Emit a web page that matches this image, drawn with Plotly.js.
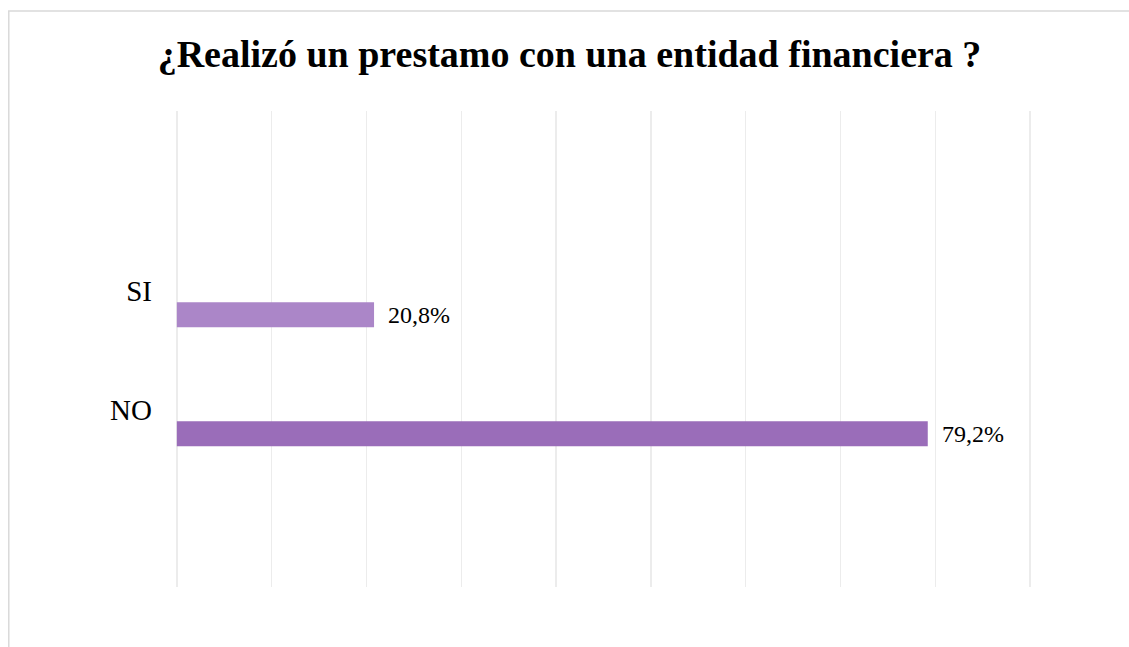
<!DOCTYPE html>
<html>
<head>
<meta charset="utf-8">
<script src="https://cdn.plot.ly/plotly-3.0.1.min.js"></script>
<style>
html,body{margin:0;padding:0;background:#fff;}
#chart{width:1129px;height:647px;}
</style>
</head>
<body>
<div id="chart"></div>
<script>
var titleText = "¿Realizó un prestamo con una entidad financiera ?";
var categories = ["NO", "SI"];
var values = [0.792, 0.208];
var valueLabels = ["79,2%", "20,8%"];
var barColors = ["#9A6DB9", "#AB86C8"];
var xTicks = [0, 0.1, 0.2, 0.3, 0.4, 0.5, 0.6, 0.7, 0.8, 0.9];

var serif = "Times New Roman, Liberation Serif, serif";

var pad = 0.003;
var pxPerUnit = 853 / 0.9;
var padPx = pad * pxPerUnit;
var mL = 177 - padPx, mR = 99 - padPx, mT = 111, mB = 60;
var plotW = 1129 - mL - mR, plotH = 647 - mT - mB;

var trace = {
  type: "bar",
  orientation: "h",
  x: values,
  y: categories,
  marker: {color: barColors},
  width: 0.21,
  offset: -0.305,
  hoverinfo: "none"
};

var annotations = values.map(function (v, i) {
  return {
    x: v, y: categories[i], xref: "x", yref: "y",
    text: valueLabels[i], showarrow: false,
    xanchor: "left", yanchor: "middle",
    xshift: 12, yshift: -24,
    font: {family: serif, size: 24, color: "#000"}
  };
});

var bx = (9 - mL) / plotW;
var by = 1 + (mT - 11) / plotH;

var layout = {
  width: 1129, height: 647,
  margin: {l: mL, r: mR, t: mT, b: mB},
  paper_bgcolor: "#fff", plot_bgcolor: "#fff",
  showlegend: false,
  title: {
    text: "<b>" + titleText + "</b>",
    x: 569.5 / 1129, xref: "container", xanchor: "center",
    y: 1 - 54 / 647, yref: "container", yanchor: "middle",
    font: {family: serif, size: 38, color: "#000"}
  },
  xaxis: {
    range: [-pad, 0.9 + pad],
    tickvals: xTicks,
    showticklabels: false,
    showgrid: true, gridcolor: "#ececec", gridwidth: 1.5,
    zeroline: false, showline: false, ticks: ""
  },
  yaxis: {
    type: "category",
    categoryorder: "array", categoryarray: categories,
    range: [-1.487, 2.513],
    showgrid: false, zeroline: false, showline: false, ticks: "",
    ticklabelstandoff: 21,
    tickfont: {family: serif, size: 29, color: "#000"}
  },
  annotations: annotations,
  shapes: [{
    type: "path", xref: "paper", yref: "paper",
    path: "M " + bx + " -0.3 L " + bx + " " + by + " L 1.3 " + by,
    line: {color: "#d9d9d9", width: 1.5}
  }]
};

Plotly.newPlot("chart", [trace], layout, {displayModeBar: false, staticPlot: true});
</script>
</body>
</html>
